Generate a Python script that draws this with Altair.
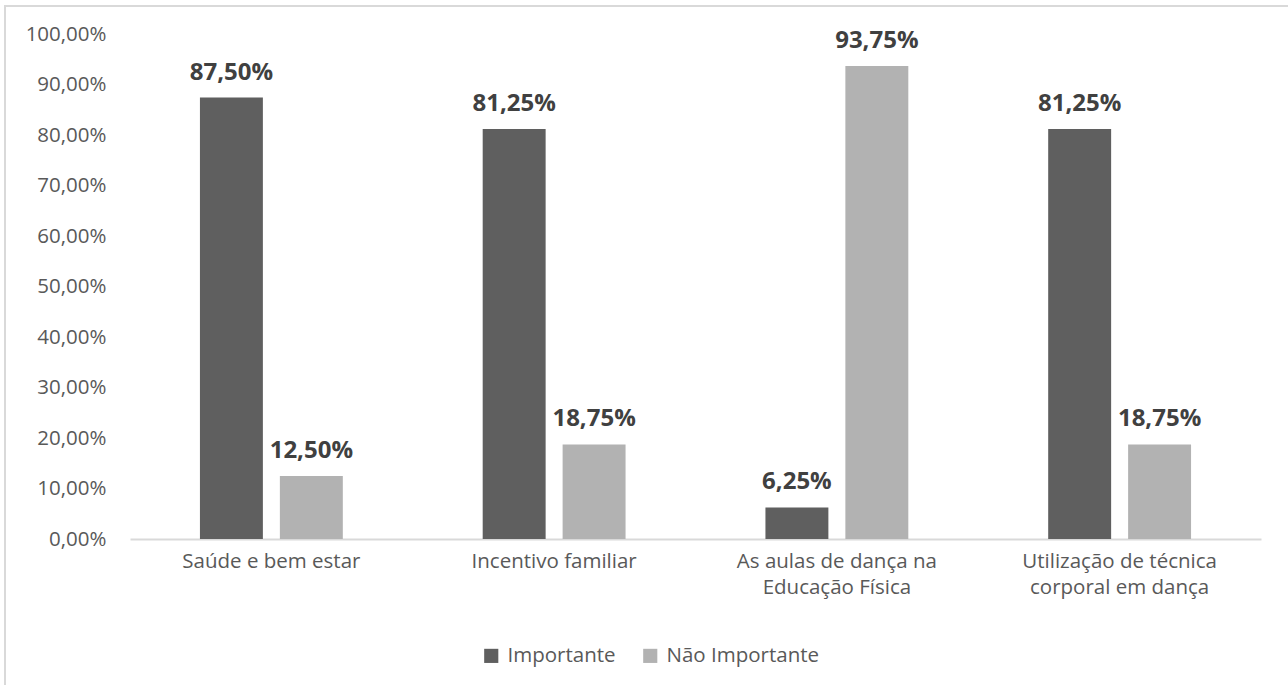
import altair as alt
import pandas as pd

categories = ["Saúde e bem estar", "Incentivo familiar",
              "As aulas de dança na\nEducação Física",
              "Utilização de técnica\ncorporal em dança"]
series = ["Importante", "Não Importante"]
importante = [0.8750, 0.8125, 0.0625, 0.8125]
nao_importante = [0.1250, 0.1875, 0.9375, 0.1875]

rows = []
for c, a, b in zip(categories, importante, nao_importante):
    rows.append({"cat": c, "serie": series[0], "v": a})
    rows.append({"cat": c, "serie": series[1], "v": b})
df = pd.DataFrame(rows)

FONT = "Open Sans"
W, H = 1131, 504.5

x = alt.X("cat:N", sort=categories, title=None,
          scale=alt.Scale(paddingInner=0, paddingOuter=0),
          axis=alt.Axis(labelAngle=0, labelExpr="split(datum.label, '\\n')",
                        labelFontSize=20.5, labelColor="#595959", labelFont=FONT,
                        labelPadding=12, labelLineHeight=26, ticks=False,
                        domainColor="#d9d9d9", domainWidth=2, labelLimit=400))
xo = alt.XOffset("serie:N", sort=series,
                 scale=alt.Scale(paddingInner=0.2125, paddingOuter=0.875))
y = alt.Y("v:Q", title=None,
          scale=alt.Scale(domain=[0, 1], nice=False),
          axis=alt.Axis(values=[i / 10 for i in range(11)],
                        labelExpr="replace(format(datum.value, '.2%'), '.', ',')",
                        labelFontSize=20.5, labelColor="#595959", labelFont=FONT,
                        labelPadding=24, ticks=False, domain=False, grid=False))

color = alt.Color("serie:N", sort=series,
                  scale=alt.Scale(domain=series, range=["#5f5f5f", "#b2b2b2"]),
                  legend=alt.Legend(title=None, orient="none", direction="horizontal",
                                    legendX=351, legendY=611, symbolType="square",
                                    symbolSize=200, symbolStrokeWidth=0,
                                    labelFontSize=20.5, labelColor="#595959",
                                    labelFont=FONT, columnPadding=24, symbolOffset=0,
                                    labelOffset=6))

bars = alt.Chart(df).mark_bar().encode(x=x, xOffset=xo, y=y, color=color)

text = alt.Chart(df).transform_calculate(
    lbl="replace(format(datum.v, '.2%'), '.', ',')"
).mark_text(dy=-18, baseline="alphabetic", fontSize=24, fontWeight="bold",
            font=FONT, color="#404040").encode(
    x=x, xOffset=xo, y="v:Q", text="lbl:N")

frame = alt.Chart(pd.DataFrame({"a": [0]})).mark_rect(
    fill=None, stroke="#d9d9d9", strokeWidth=2).encode(
    x=alt.value(-125), x2=alt.value(W + 60), y=alt.value(-28.5), y2=alt.value(H + 200))

chart = alt.layer(frame, bars, text).properties(
    width=W, height=H,
    background="white",
    autosize=alt.AutoSizeParams(type="none"),
    padding={"left": 130, "top": 34.5, "right": 27, "bottom": 146},
).configure_view(stroke=None, strokeWidth=0)

chart.save("out.html", embed_options={"renderer": "svg", "actions": False})
